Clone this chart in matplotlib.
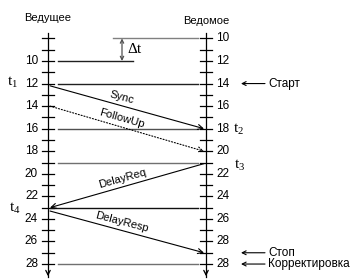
import math
import matplotlib
matplotlib.use("Agg")
import matplotlib.pyplot as plt

plt.rcParams["mathtext.fontset"] = "custom"
plt.rcParams["mathtext.rm"] = "Liberation Serif"
plt.rcParams["mathtext.it"] = "Liberation Serif:italic"

# master clock ticks and labels
master_ticks = list(range(8, 29))
master_labels = list(range(10, 29, 2))
# slave clock runs 2 units ahead of master until correction
slave_offset = 2
slave_ticks = list(range(10, 30))
slave_labels = list(range(10, 29, 2))
slave_corrected = 28          # value shown after correction (at master 28)

# horizontal reference lines: (master time, x start, x end, colour)
hlines = [
    (8, 113, 198, "#808080"),
    (10, 58, 133, "#202020"),
    (12, 58, 198, "#202020"),
    (16, 58, 198, "#505050"),
    (19, 58, 198, "#707070"),
    (23, 50, 198, "#101010"),
    (28, 58, 198, "#707070"),
]

# messages: (name, master time at left, master time at right, direction, style)
messages = [
    ("Sync", 12.2, 16.0, "right", "-"),
    ("FollowUp", 14.0, 18.0, "right", ":"),
    ("DelayReq", 23.0, 19.1, "left", "-"),
    ("DelayResp", 23.3, 27.0, "right", "-"),
]

XL, XR = 48, 206
Y0, SCALE = 61, 11.28


def t_of(ypix):
    return 10 + (ypix - Y0) / SCALE


fig = plt.figure(figsize=(3.5, 2.8), dpi=100)
ax = fig.add_axes([0, 0, 1, 1])
ax.set_xlim(0, 350)
ax.set_ylim(t_of(280), t_of(0))
ax.axis("off")

sans = "Liberation Sans"
serif = "Liberation Serif"

# axes with arrows
for x in (XL, XR):
    ax.plot([x, x], [t_of(33), t_of(277)], color="black", lw=0.9)
    ax.annotate("", xy=(x, t_of(279)), xytext=(x, t_of(270)),
                arrowprops=dict(arrowstyle="->", color="black", lw=0.9,
                                mutation_scale=8))

# ticks
for t in master_ticks:
    ax.plot([XL - 6, XL + 6], [t, t], color="black", lw=0.9)
for t in master_labels:
    ax.text(XL - 10, t, str(t), ha="right", va="center", fontsize=8.5, family=sans)
for s in slave_ticks:
    ax.plot([XR - 6, XR + 6], [s - slave_offset] * 2, color="black", lw=0.9)
ax.plot([XR - 6, XR + 6], [slave_corrected] * 2, color="black", lw=0.9)
for s in slave_labels:
    ax.text(XR + 10, s - slave_offset, str(s), ha="left", va="center",
            fontsize=8.5, family=sans)
ax.text(XR + 10, slave_corrected, str(slave_corrected), ha="left",
        va="center", fontsize=8.5, family=sans)

ax.text(XL, t_of(18), "Ведущее", ha="center", va="center", fontsize=8, family=sans)
ax.text(XR, t_of(21), "Ведомое", ha="center", va="center", fontsize=8, family=sans)

# horizontal lines
for t, x0, x1, c in hlines:
    ax.plot([x0, x1], [t, t], color=c, lw=1.0)

# delta t
ax.annotate("", xy=(122, 8), xytext=(122, 10),
            arrowprops=dict(arrowstyle="<->", color="#505050", lw=0.9,
                            mutation_scale=6, shrinkA=0, shrinkB=0))
ax.text(127, 9, "Δt", ha="left", va="center", fontsize=11, family=serif)

# messages
fig.canvas.draw()
for name, tl, tr, d, ls in messages:
    if d == "right":
        start, end = (XL + 2, tl), (XR - 2, tr)
    else:
        start, end = (XR - 2, tr), (XL + 2, tl)
    ax.annotate("", xy=end, xytext=start,
                arrowprops=dict(arrowstyle="->", color="black", lw=0.8,
                                linestyle=ls, mutation_scale=9,
                                shrinkA=0, shrinkB=0))
    p0 = ax.transData.transform((XL, tl))
    p1 = ax.transData.transform((XR, tr))
    ang = math.degrees(math.atan2(p1[1] - p0[1], p1[0] - p0[0]))
    xm = 122
    tm = tl + (tr - tl) * (xm - XL) / (XR - XL)
    ax.annotate(name, xy=(xm, tm), xytext=(0, 6), textcoords="offset points",
                ha="center", va="center", rotation=ang, fontsize=8, family=sans,
                rotation_mode="anchor")

# time marks
tmarks = [(r"$\mathrm{t}_1$", 7, 11.9), (r"$\mathrm{t}_2$", 233, 16.1),
          (r"$\mathrm{t}_3$", 234, 19.3), (r"$\mathrm{t}_4$", 9, 23.1)]
for txt, x, t in tmarks:
    ax.text(x, t, txt, ha="left", va="center", fontsize=11)

# event notes on the right
notes = [("Старт", 12), ("Стоп", 27), ("Корректировка", 28)]
for txt, t in notes:
    ax.annotate("", xy=(241, t), xytext=(265, t),
                arrowprops=dict(arrowstyle="->", color="black", lw=0.8,
                                mutation_scale=7, shrinkA=0, shrinkB=0))
    ax.text(268, t, txt, ha="left", va="center", fontsize=8.5, family=sans)

fig.savefig("out.png", dpi=100)
